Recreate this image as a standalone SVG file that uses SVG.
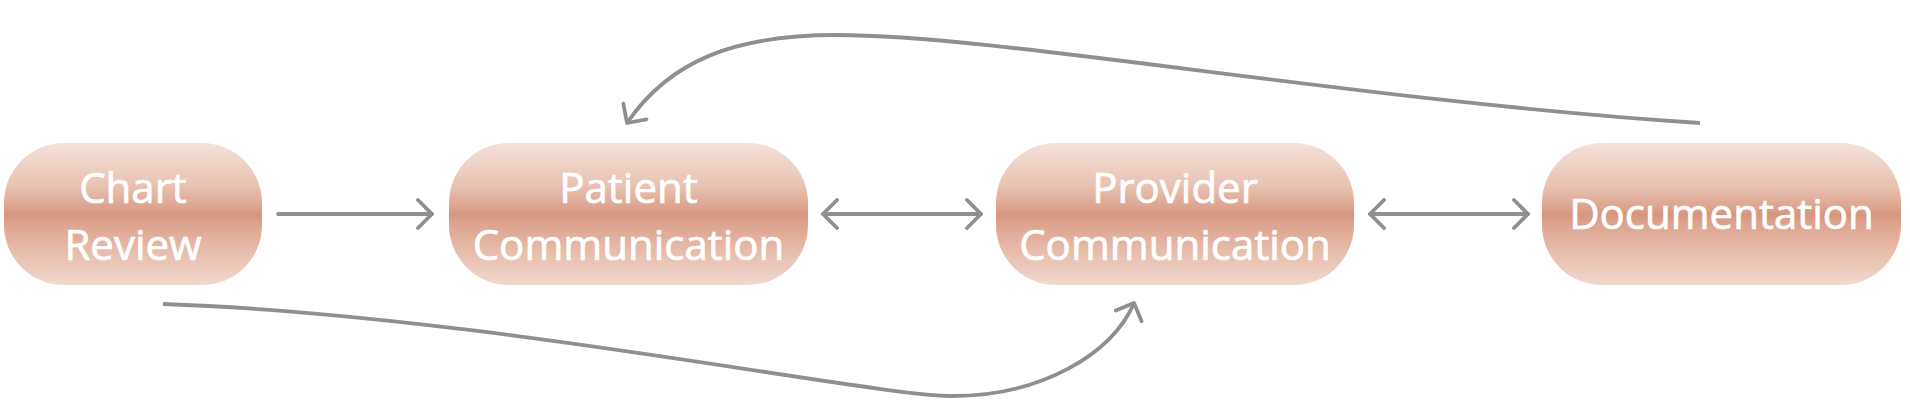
<svg xmlns="http://www.w3.org/2000/svg" width="1910" height="416" viewBox="0 0 1910 416">
  <style>
    .node rect { fill: url(#nodeGrad); }
    .node text { font-family: "Open Sans", "Noto Sans", sans-serif; font-size: 42px; fill: #ffffff; stroke: #ffffff; stroke-width: 0.7; text-anchor: middle; }
    .edge { fill: none; stroke: #8f8f8f; stroke-width: 3.8; stroke-linecap: round; }
  </style>
  <defs>
    <linearGradient id="nodeGrad" x1="0" y1="0" x2="0" y2="1">
      <stop offset="0" stop-color="#f4e2da"/>
      <stop offset="0.3" stop-color="#e8c2b2"/>
      <stop offset="0.46" stop-color="#dca28c"/>
      <stop offset="0.5" stop-color="#d6957e"/>
      <stop offset="0.56" stop-color="#dca28c"/>
      <stop offset="0.75" stop-color="#e6bba9"/>
      <stop offset="1" stop-color="#f1d8ce"/>
    </linearGradient>
    <marker id="arrow" viewBox="-16 -16 20 32" markerWidth="20" markerHeight="32" refX="0" refY="0" orient="auto-start-reverse" markerUnits="userSpaceOnUse">
      <path d="M-14,-14 L0,0 L-14,14" fill="none" stroke="#8f8f8f" stroke-width="3.8" stroke-linecap="round" stroke-linejoin="round"/>
    </marker>
  </defs>
  <rect width="1910" height="416" fill="#ffffff"/>
  <g id="connectors">
    <line class="edge" x1="278" y1="214" x2="432" y2="214" marker-end="url(#arrow)"/>
    <line class="edge" x1="823" y1="214" x2="981" y2="214" marker-start="url(#arrow)" marker-end="url(#arrow)"/>
    <line class="edge" x1="1370" y1="214" x2="1528" y2="214" marker-start="url(#arrow)" marker-end="url(#arrow)"/>
    <path class="edge" style="stroke-linecap:butt" d="M1700,123 C1350,100 1000,35 836,35 C736,35 670,60 627,123" marker-end="url(#arrow)"/>
    <path class="edge" style="stroke-linecap:butt" d="M163,304 C483,315 870,396 953,396 C1040,396 1113,354 1134,303" marker-end="url(#arrow)"/>
  </g>
  <g id="node-chart-review" class="node">
    <rect x="4" y="143" width="258" height="142" rx="60" ry="60"/>
    <text x="133" y="203">Chart</text>
    <text x="133" y="260">Review</text>
  </g>
  <g id="node-patient-communication" class="node">
    <rect x="449" y="143" width="359" height="142" rx="60" ry="60"/>
    <text x="628.5" y="203">Patient</text>
    <text x="628.5" y="260">Communication</text>
  </g>
  <g id="node-provider-communication" class="node">
    <rect x="996" y="143" width="358" height="142" rx="60" ry="60"/>
    <text x="1175" y="203">Provider</text>
    <text x="1175" y="260">Communication</text>
  </g>
  <g id="node-documentation" class="node">
    <rect x="1542" y="143" width="359" height="142" rx="60" ry="60"/>
    <text x="1721.5" y="229">Documentation</text>
  </g>
</svg>
